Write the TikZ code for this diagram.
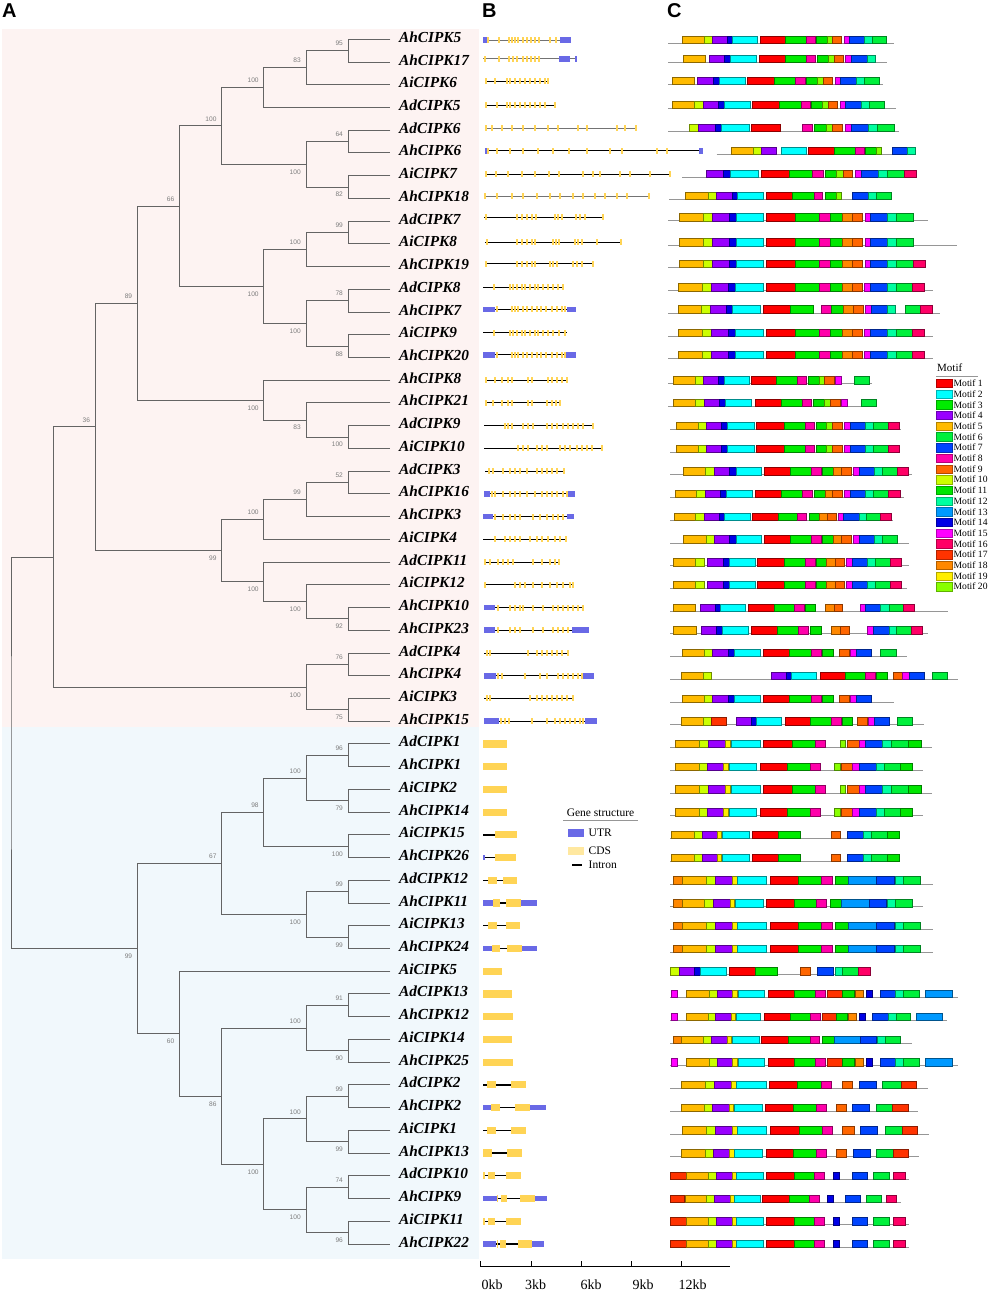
\documentclass[tikz,border=0pt]{standalone}
\usepackage{fontspec}
\setmainfont{Liberation Serif}
\newfontfamily\sansf{Liberation Sans}
\definecolor{pinkbg}{RGB}{253,243,242}
\definecolor{bluebg}{RGB}{241,248,252}
\definecolor{treec}{RGB}{100,100,100}
\definecolor{bootc}{RGB}{125,125,125}
\definecolor{utrc}{RGB}{105,105,230}
\definecolor{cdsc}{RGB}{255,212,85}
\definecolor{cdsl}{RGB}{255,232,160}
\definecolor{basec}{RGB}{150,150,150}
\definecolor{mc1}{RGB}{255,0,0}
\definecolor{mc2}{RGB}{0,255,255}
\definecolor{mc3}{RGB}{0,236,0}
\definecolor{mc4}{RGB}{153,0,255}
\definecolor{mc5}{RGB}{255,187,0}
\definecolor{mc6}{RGB}{0,240,60}
\definecolor{mc7}{RGB}{0,68,255}
\definecolor{mc8}{RGB}{255,0,170}
\definecolor{mc9}{RGB}{255,102,0}
\definecolor{mc10}{RGB}{204,255,0}
\definecolor{mc11}{RGB}{0,230,0}
\definecolor{mc12}{RGB}{0,255,160}
\definecolor{mc13}{RGB}{0,153,255}
\definecolor{mc14}{RGB}{0,0,230}
\definecolor{mc15}{RGB}{255,0,255}
\definecolor{mc16}{RGB}{255,0,102}
\definecolor{mc17}{RGB}{255,51,0}
\definecolor{mc18}{RGB}{255,136,0}
\definecolor{mc19}{RGB}{255,238,0}
\definecolor{mc20}{RGB}{136,255,0}
\def\RY#1{(39.3+(#1-1)*22.73)}
\newcommand\setBY[2]{\expandafter\xdef\csname by@#1\endcsname{#2}}
\def\BY#1{\csname by@#1\endcsname}
% tree helpers
\newcommand\leaf[2]{\coordinate (#1) at (390.35,{\RY{#2}});%
  \expandafter\xdef\csname ty@#1\endcsname{\fpeval{39.3+(#2-1)*22.73}}}
\newcommand\inode[6]{%
  \expandafter\xdef\csname ty@#1\endcsname{\fpeval{(\csname ty@#3\endcsname+\csname ty@#4\endcsname)/2}}%
  \coordinate (#1) at (#2,\csname ty@#1\endcsname);
  \draw[treeline] (#3) -| (#1) |- (#4);
  \node[boot#6] (bl#1) at (#1) {#5};}
\newcommand\inodeN[4]{%
  \expandafter\xdef\csname ty@#1\endcsname{\fpeval{(\csname ty@#3\endcsname+\csname ty@#4\endcsname)/2}}%
  \coordinate (#1) at (#2,\csname ty@#1\endcsname);
  \draw[treeline] (#3) -| (#1) |- (#4);}
% gene structure helpers
\newcommand\gs[5][black]{%
  \draw[#1, line width=1pt] (#3,{\BY{#2}}) -- (#4,{\BY{#2}});
  \edef\exlist{#5}%
  \foreach \x in \exlist {\fill[cdsc] ({\x-3},{\BY{#2}-3}) rectangle ({\x+3},{\BY{#2}+3});}}
\newcommand\gline[3]{\draw[black, line width=1.3pt] (#2,{\BY{#1}}) -- (#3,{\BY{#1}});}
\newcommand\utr[3]{\fill[utrc] (#2,{\BY{#1}-2.8}) rectangle (#3,{\BY{#1}+2.8});}
\newcommand\cds[3]{\fill[cdsc] (#2,{\BY{#1}-3.6}) rectangle (#3,{\BY{#1}+3.6});}
% motif helper
\newcommand\mrow[4]{%
  \draw[mbase] (#2,{\BY{#1}+3.7}) -- (#3,{\BY{#1}+3.7});
  \edef\mlist{#4}%
  \foreach \s/\e/\m in \mlist {\filldraw[fill=mc\m, draw=mc\m!55!black, line width=0.45pt] (\s,{\BY{#1}-3.7}) rectangle (\e,{\BY{#1}+3.7});}}
\def\PA{57/130/5,130/157/10,157/208/4,208/228/14,228/310/2,320/407/1,407/478/3,478/512/8,512/548/11,548/578/18,578/608/9,615/632/15,632/683/7,683/708/12,708/760/6}
\def\PB{55/127/5,127/153/10,153/205/4,205/225/14,225/310/2,320/407/1,407/478/3,478/510/8,510/548/11,548/578/18,578/608/9,612/632/15,632/683/7,683/708/12,708/758/6,758/793/16}
\def\PC{48/115/5,115/140/10,140/185/4,185/203/14,203/282/2,290/372/1,372/435/3,435/463/8,468/500/11,500/517/20,517/548/9,553/570/15,570/615/7,615/640/12,640/685/6,685/718/16}
\def\PD{40/107/5,107/133/10,143/190/4,190/207/14,207/285/2,292/372/1,372/435/3,435/465/8,468/500/11,500/525/18,525/552/9,558/577/15,577/623/7,623/647/12,647/690/6,690/725/16}
\def\PE{45/118/5,118/145/10,145/195/4,195/210/19,213/300/2,310/398/1,398/465/3,465/497/8,540/557/20,563/597/9,597/617/15,617/668/7,668/695/12,695/745/6,745/783/11}
\def\PF{45/117/5,117/143/10,143/190/4,190/205/19,207/290/2,300/382/1,382/450/3,450/482/8,522/542/20,545/577/9,577/597/15,597/648/7,648/673/12,673/722/6,722/758/11}
\def\PG{35/102/5,102/127/10,127/172/4,172/185/19,188/268/2,277/355/1,355/422/3,513/542/9,562/610/7,610/633/12,633/683/6,683/717/11}
\def\PH{40/67/18,67/138/5,138/165/10,165/218/4,218/232/19,232/320/2,330/415/1,415/485/3,485/517/8,527/565/11,565/648/13,648/702/7,705/730/12,730/782/6}
\def\PI{35/53/15,80/148/5,148/172/10,172/218/4,218/232/19,235/312/2,325/402/1,402/465/3,465/495/8,503/548/17,548/582/11,585/610/18,618/637/14,660/707/7,707/730/12,730/777/6,797/877/13}
\def\PJ{30/78/17,78/145/5,145/170/10,170/217/4,217/228/19,228/310/2,320/402/1,402/463/3,463/492/8,520/538/14,577/622/7,640/688/6,700/735/16}
\begin{document}
\begin{tikzpicture}[x=1pt,y=-1pt,
  treeline/.style={draw=treec, line width=1pt},
  boota/.style={font=\sansf\fontsize{6.6}{7}\selectfont, text=bootc, anchor=south east, inner sep=0.6pt, xshift=-4.5pt, yshift=4pt},
  bootb/.style={font=\sansf\fontsize{6.6}{7}\selectfont, text=bootc, anchor=north east, inner sep=0.6pt, xshift=-4.5pt, yshift=-4.5pt},
  glab/.style={font=\bfseries\itshape\fontsize{15.3}{16}\selectfont, anchor=base west, inner sep=0pt},
  mbase/.style={draw=basec, line width=1pt},
  panel/.style={font=\sansf\bfseries\fontsize{20}{20}\selectfont, anchor=base west, inner sep=0pt},
  legtxt/.style={font=\fontsize{11.5}{12}\selectfont, anchor=west, inner sep=0pt},
  scl/.style={font=\fontsize{14}{14}\selectfont, inner sep=0pt},
]
% row positions of panels B and C
\foreach \i/\v in {1/40,2/58.8,3/81,4/105,5/128,6/150.7,7/174,8/196,9/217.2,10/242.2,11/263.7,12/287.2,13/309.3,14/332.7,15/354.7}{\setBY{\i}{\v}}
\foreach \i in {16,...,54}{\setBY{\i}{\fpeval{39.3+(\i-1)*22.73}}}
\useasboundingbox (0,0) rectangle (989,1291);
\fill[white] (0,0) rectangle (989,1291);
% backgrounds
\fill[pinkbg] (1.5,29.3) rectangle (478.5,727);
\fill[bluebg] (1.5,727) rectangle (478.5,1259);
% panel letters
\node[panel] (pA) at (2,17.5) {A};
\node[panel] (pB) at (482,17.5) {B};
\node[panel] (pC) at (667,17.5) {C};
% leaves and labels
\foreach \i/\n in {1/AhCIPK5,2/AhCIPK17,3/AiCIPK6,4/AdCIPK5,5/AdCIPK6,6/AhCIPK6,7/AiCIPK7,8/AhCIPK18,9/AdCIPK7,10/AiCIPK8,11/AhCIPK19,12/AdCIPK8,13/AhCIPK7,14/AiCIPK9,15/AhCIPK20,16/AhCIPK8,17/AhCIPK21,18/AdCIPK9,19/AiCIPK10,20/AdCIPK3,21/AhCIPK16,22/AhCIPK3,23/AiCIPK4,24/AdCIPK11,25/AiCIPK12,26/AhCIPK10,27/AhCIPK23,28/AdCIPK4,29/AhCIPK4,30/AiCIPK3,31/AhCIPK15,32/AdCIPK1,33/AhCIPK1,34/AiCIPK2,35/AhCIPK14,36/AiCIPK15,37/AhCIPK26,38/AdCIPK12,39/AhCIPK11,40/AiCIPK13,41/AhCIPK24,42/AiCIPK5,43/AdCIPK13,44/AhCIPK12,45/AiCIPK14,46/AhCIPK25,47/AdCIPK2,48/AhCIPK2,49/AiCIPK1,50/AhCIPK13,51/AdCIPK10,52/AhCIPK9,53/AiCIPK11,54/AhCIPK22}{
  \leaf{L\i}{\i}
  \node[glab] (g\i) at (399,{\RY{\i}+3}) {\n};
}
% tree: pink clade
\inode{a1}{348.2}{L1}{L2}{95}{a}
\inode{a2}{306.05}{a1}{L3}{83}{a}
\inode{a3}{263.9}{a2}{L4}{100}{a}
\inode{a4}{348.2}{L5}{L6}{64}{a}
\inode{a5}{348.2}{L7}{L8}{82}{b}
\inode{a6}{306.05}{a4}{a5}{100}{b}
\inode{a7}{221.75}{a3}{a6}{100}{a}
\inode{a8}{348.2}{L9}{L10}{99}{a}
\inode{a9}{306.05}{a8}{L11}{100}{a}
\inode{a10}{348.2}{L12}{L13}{78}{a}
\inode{a11}{348.2}{L14}{L15}{88}{b}
\inode{a12}{306.05}{a10}{a11}{100}{b}
\inode{a13}{263.9}{a9}{a12}{100}{b}
\inode{a14}{179.6}{a7}{a13}{66}{a}
\inode{a15}{348.2}{L18}{L19}{100}{b}
\inode{a16}{306.05}{L17}{a15}{83}{b}
\inode{a17}{263.9}{L16}{a16}{100}{b}
\inode{a18}{137.45}{a14}{a17}{89}{a}
\inode{a19}{348.2}{L20}{L21}{52}{a}
\inode{a20}{306.05}{a19}{L22}{99}{a}
\inode{a21}{263.9}{a20}{L23}{100}{a}
\inode{a22}{348.2}{L26}{L27}{92}{b}
\inode{a23}{306.05}{L25}{a22}{100}{b}
\inode{a24}{263.9}{L24}{a23}{100}{b}
\inode{a25}{221.75}{a21}{a24}{99}{b}
\inode{a26}{95.3}{a18}{a25}{36}{a}
\inode{a27}{348.2}{L28}{L29}{76}{a}
\inode{a28}{348.2}{L30}{L31}{75}{b}
\inode{a29}{306.05}{a27}{a28}{100}{b}
\inodeN{a30}{53.15}{a26}{a29}
% tree: blue clade
\inode{b1}{348.2}{L32}{L33}{96}{a}
\inode{b2}{348.2}{L34}{L35}{79}{b}
\inode{b3}{306.05}{b1}{b2}{100}{a}
\inode{b4}{348.2}{L36}{L37}{100}{b}
\inode{b5}{263.9}{b3}{b4}{98}{a}
\inode{b6}{348.2}{L38}{L39}{99}{a}
\inode{b7}{348.2}{L40}{L41}{99}{b}
\inode{b8}{306.05}{b6}{b7}{100}{b}
\inode{b9}{221.75}{b5}{b8}{67}{a}
\inode{b10}{348.2}{L43}{L44}{91}{a}
\inode{b11}{348.2}{L45}{L46}{90}{b}
\inode{b12}{306.05}{b10}{b11}{100}{a}
\inode{b13}{348.2}{L47}{L48}{99}{a}
\inode{b14}{348.2}{L49}{L50}{99}{b}
\inode{b15}{306.05}{b13}{b14}{100}{a}
\inode{b16}{348.2}{L51}{L52}{74}{a}
\inode{b17}{348.2}{L53}{L54}{96}{b}
\inode{b18}{306.05}{b16}{b17}{100}{b}
\inode{b19}{263.9}{b15}{b18}{100}{b}
\inode{b20}{221.75}{b12}{b19}{86}{b}
\inode{b21}{179.6}{L42}{b20}{60}{b}
\inode{b22}{137.45}{b9}{b21}{99}{b}
\inodeN{root}{11}{a30}{b22}
% gene structures
\begin{scope}[shift={(470,0)},xscale=1/3]
\gs[black!55]{1}{40}{302}{55,88,118,125,135,145,160,172,183,195,207,240,258}\utr{1}{40}{52}\utr{1}{270}{302}
\gs[black!55]{2}{40}{322}{45,88,118,130,142,160,172,183,195,207}\utr{2}{268}{300}\utr{2}{316}{322}
\gs{3}{45}{237}{47,75,110,120,135,150,165,180,195,210,225,235}
\gs{4}{45}{257}{47,80,110,120,135,150,165,180,195,210,225,255}
\gs[black!55]{5}{45}{500}{47,65,95,125,160,195,235,265,325,352,440,465,498}
\gs{6}{45}{699}{55,80,120,160,205,250,297,350,420,455,560,590}\utr{6}{45}{52}\utr{6}{688}{699}
\gs{7}{45}{603}{47,78,115,157,195,237,268,340,370,390,450,480,540,600}
\gs[black!55]{8}{42}{540}{44,80,125,160,200,240,270,310,340,375,405,440,470,538}
\gs{9}{42}{400}{48,140,155,170,185,198,255,265,275,318,330,345,398}
\gs{10}{45}{455}{50,140,155,170,185,195,248,258,268,315,325,335,380,453}
\gs{11}{45}{372}{48,140,155,170,185,195,240,250,262,310,322,335,370}
\gs{12}{40}{283}{73,120,130,140,155,165,180,195,205,220,235,250,265,280}
\gs{13}{40}{318}{80,125,135,145,160,170,185,200,212,228,245,260,275,286}\utr{13}{40}{75}\utr{13}{290}{318}
\gs{14}{40}{290}{73,120,130,140,155,165,180,195,205,220,235,250,268,285}
\gs{15}{40}{318}{80,125,135,145,160,170,185,200,212,228,245,262,275,285}\utr{15}{40}{75}\utr{15}{288}{318}
\gs{16}{45}{292}{47,75,95,115,125,175,185,235,245,260,275,290}
\gs{17}{45}{272}{47,70,95,115,125,175,185,230,245,258,270}
\gs{18}{42}{370}{105,115,125,160,175,190,230,245,260,280,295,310,325,340,368}
\gs{19}{42}{398}{145,160,175,200,215,230,270,285,300,320,335,350,365,396}
\gs{20}{45}{285}{58,68,100,120,135,150,170,200,215,230,245,260,283}
\gs{21}{42}{315}{65,75,100,120,135,150,170,195,215,230,245,260,280,292}\utr{21}{42}{60}\utr{21}{295}{315}
\gs{22}{40}{312}{75,100,120,135,150,190,210,230,250,265,280}\utr{22}{40}{70}\utr{22}{290}{312}
\gs{23}{40}{290}{75,105,120,135,150,180,200,215,235,255,270,288}
\gs{24}{42}{270}{45,60,85,100,115,130,190,215,240,255,268}
\gs{25}{42}{310}{45,135,150,165,190,215,240,260,280,300,308}
\gs{26}{42}{340}{85,120,135,150,160,190,220,250,265,280,295,310,325,338}\utr{26}{42}{75}
\gs{27}{42}{357}{85,120,135,150,190,220,250,265,280,295}\utr{27}{42}{75}\utr{27}{305}{357}
\gs{28}{42}{295}{50,60,175,200,215,230,245,260,275,293}
\gs{29}{42}{372}{85,95,165,210,230,265,280,295,310,325,335}\utr{29}{42}{78}\utr{29}{340}{372}
\gs{30}{42}{310}{50,60,180,200,215,230,245,260,275,290,308}
\gs{31}{42}{380}{92,105,118,185,230,255,270,285,300,315,330,340}\utr{31}{42}{88}\utr{31}{345}{380}
\cds{32}{40}{112}\cds{33}{40}{112}\cds{34}{40}{112}\cds{35}{40}{112}
\gline{36}{40}{75}\cds{36}{75}{140}
\gline{37}{40}{75}\utr{37}{40}{45}\cds{37}{75}{137}
\gline{38}{40}{142}\cds{38}{55}{80}\cds{38}{98}{142}
\gline{39}{40}{202}\utr{39}{40}{68}\cds{39}{68}{90}\cds{39}{108}{152}\utr{39}{152}{202}
\gline{40}{40}{150}\cds{40}{55}{82}\cds{40}{108}{150}
\gline{41}{40}{202}\utr{41}{40}{65}\cds{41}{65}{90}\cds{41}{112}{155}\utr{41}{155}{202}
\cds{42}{40}{97}
\cds{43}{40}{126}\cds{44}{40}{130}\cds{45}{40}{126}\cds{46}{40}{130}
\gline{47}{40}{167}\cds{47}{50}{78}\cds{47}{122}{167}
\gline{48}{40}{228}\utr{48}{40}{62}\cds{48}{62}{90}\cds{48}{135}{180}\utr{48}{180}{228}
\gline{49}{40}{167}\cds{49}{50}{78}\cds{49}{122}{167}
\gline{50}{40}{155}\cds{50}{40}{66}\cds{50}{110}{155}
\gline{51}{40}{152}\cds{51}{40}{46}\cds{51}{55}{75}\cds{51}{108}{152}
\gline{52}{40}{232}\utr{52}{40}{80}\cds{52}{80}{85}\cds{52}{93}{112}\cds{52}{150}{195}\utr{52}{195}{232}
\gline{53}{40}{152}\cds{53}{40}{46}\cds{53}{55}{75}\cds{53}{108}{152}
\gline{54}{40}{222}\utr{54}{40}{78}\cds{54}{80}{85}\cds{54}{90}{108}\cds{54}{145}{185}\utr{54}{185}{222}
\end{scope}
% motifs
\begin{scope}[shift={(660,0)},xscale=1/3]
\mrow{1}{25}{703}{67/133/5,133/157/10,157/203/4,203/218/14,218/293/2,300/377/1,377/440/3,440/465/8,470/503/11,503/518/20,518/545/9,553/568/15,568/613/7,613/637/12,637/680/6}
\mrow{2}{25}{680}{70/137/5,147/193/4,193/212/14,212/290/2,297/375/1,375/440/3,440/467/8,472/505/11,505/522/20,522/550/9,557/573/15,573/622/7,622/645/12}
\mrow{3}{25}{670}{37/103/5,113/160/4,160/178/14,178/257/2,263/342/1,342/406/3,406/435/8,438/473/11,473/490/20,490/518/9,525/540/15,540/588/7,588/612/12,612/657/6}
\mrow{4}{25}{707}{37/103/5,103/130/10,130/175/4,175/193/14,193/272/2,278/358/1,358/423/3,423/452/8,455/488/11,488/505/20,505/533/9,540/555/15,555/603/7,603/628/12,628/673/6}
\mrow{5}{25}{717}{88/115/10,115/165/4,165/185/14,185/268/2,275/362/1,427/458/8,462/500/11,500/517/20,517/548/9,557/575/15,575/625/7,625/652/12,652/702/6}
\mrow{6}{170}{767}{215/280/5,280/305/10,305/350/4,363/440/2,445/522/1,522/585/3,585/612/8,615/650/11,650/663/20,697/742/7,742/767/12}
\mrow{7}{67}{768}{140/190/4,190/210/14,210/295/2,303/388/1,388/458/3,458/490/8,495/530/11,530/550/20,550/578/9,587/605/15,605/655/7,655/682/12,682/732/6,732/768/16}
\mrow{8}{27}{695}{75/145/5,145/170/10,170/217/4,217/233/14,233/310/2,318/398/1,398/462/3,462/488/8,495/528/11,528/545/20,578/625/7,625/648/12,648/695/6}
\mrow{9}{25}{803}{\PA}
\mrow{10}{25}{890}{\PA}
\mrow{11}{25}{797}{\PA,760/795/16}
\mrow{12}{25}{820}{\PB}
\mrow{13}{25}{840}{55/123/5,123/150/10,150/200/4,200/218/14,218/300/2,310/392/1,392/460/3,483/515/8,515/550/11,550/580/18,580/610/9,615/633/15,633/683/7,683/707/12,735/782/6,782/818/16}
\mrow{14}{25}{818}{\PB}
\mrow{15}{25}{818}{\PB}
\mrow{16}{25}{637}{40/105/5,105/130/10,130/175/4,175/192/14,192/267/2,275/350/1,350/413/3,413/440/8,445/478/11,478/493/20,493/522/9,527/545/15,583/627/6}
\mrow{17}{25}{650}{40/107/5,107/133/10,133/178/4,178/197/14,197/275/2,285/365/1,365/428/3,428/455/8,460/493/11,493/512/20,512/540/9,545/563/15,603/650/6}
\mrow{18}{30}{723}{\PC}
\mrow{19}{30}{720}{\PC}
\mrow{20}{30}{757}{70/137/5,137/162/10,162/208/4,208/228/14,228/305/2,312/390/1,390/455/3,455/485/8,488/520/11,520/545/18,545/573/9,580/597/15,597/643/7,643/667/12,667/712/6,712/745/16}
\mrow{21}{30}{733}{45/110/5,110/135/10,135/182/4,182/200/14,200/278/2,285/365/1,365/428/3,428/457/8,462/495/11,495/518/18,518/548/9,553/570/15,570/617/7,617/640/12,640/685/6,685/720/16}
\mrow{22}{30}{700}{43/107/5,107/133/10,133/177/4,177/193/14,193/270/2,277/355/1,355/413/3,413/440/8,447/478/11,478/503/18,503/528/9,535/550/15,550/597/7,597/620/12,620/662/6,662/695/16}
\mrow{23}{30}{748}{70/138/5,138/162/10,162/208/4,208/228/14,228/305/2,312/390/1,390/455/3,455/485/8,488/520/11,520/545/18,545/573/9,580/597/15,597/643/7,643/667/12,667/713/6}
\mrow{24}{30}{748}{\PD}
\mrow{25}{30}{740}{\PD}
\mrow{26}{30}{863}{40/105/5,120/165/4,165/182/14,182/257/2,265/342/1,342/402/3,402/432/8,435/467/11,497/522/18,522/548/9,600/617/15,617/662/7,662/687/12,687/730/6,730/762/16}
\mrow{27}{30}{803}{40/108/5,123/170/4,170/188/14,188/265/2,273/352/1,352/415/3,415/445/8,450/483/11,513/540/18,540/568/9,622/640/15,640/687/7,687/710/12,710/755/6,755/788/16}
\mrow{28}{30}{742}{67/133/5,133/158/10,158/205/4,205/222/14,222/300/2,310/388/1,388/453/3,453/483/8,487/520/11,537/567/9,570/588/15,588/633/7,662/708/6}
\mrow{29}{30}{893}{63/130/5,130/153/10,333/378/4,378/393/14,393/470/2,480/555/1,555/617/3,617/645/8,650/683/11,700/727/9,728/747/15,747/792/7,818/863/6}
\mrow{30}{30}{703}{67/133/5,133/158/10,158/205/4,205/222/14,222/300/2,310/388/1,388/453/3,453/483/8,487/520/11,537/567/9,570/588/15,588/633/7}
\mrow{31}{30}{792}{63/130/5,130/153/10,155/200/17,228/273/4,273/290/14,290/365/2,375/452/1,452/515/3,515/543/8,547/578/11,593/623/9,625/642/15,642/687/7,713/757/6}
\mrow{32}{30}{817}{\PE}
\mrow{33}{30}{790}{\PF}
\mrow{34}{30}{817}{\PE}
\mrow{35}{30}{790}{\PF}
\mrow{36}{30}{717}{\PG}
\mrow{37}{30}{717}{\PG}
\mrow{38}{30}{818}{\PH}
\mrow{39}{30}{790}{40/67/18,67/133/5,133/160/10,160/210/4,210/223/19,225/310/2,320/403/1,403/468/3,468/500/8,510/545/11,545/628/13,628/678/7,682/707/12,707/757/6}
\mrow{40}{30}{818}{\PH}
\mrow{41}{30}{818}{\PH}
\mrow{42}{30}{630}{32/57/10,57/103/4,103/120/14,120/198/2,208/287/1,287/352/3,422/452/9,473/520/7,525/548/12,548/595/6,595/630/16}
\mrow{43}{30}{893}{\PI}
\mrow{44}{30}{862}{35/53/15,78/145/5,145/167/10,167/213/4,213/226/19,228/302/2,313/390/1,390/452/3,452/480/8,487/530/17,530/563/11,565/590/18,597/615/14,638/685/7,685/708/12,708/752/6,768/847/13}
\mrow{45}{30}{755}{40/65/18,65/130/5,130/153/10,153/203/4,203/215/19,217/297/2,305/385/1,385/450/3,450/477/8,487/522/11,522/600/13,600/648/7,651/675/12,675/722/6}
\mrow{46}{30}{893}{\PI}
\mrow{47}{30}{803}{63/137/5,137/163/10,163/215/4,215/230/19,230/318/2,327/412/1,412/485/3,485/515/8,547/578/9,597/648/7,668/723/6,723/770/17}
\mrow{48}{30}{775}{63/133/5,133/158/10,158/207/4,207/220/19,222/308/2,317/400/1,400/468/3,468/498/8,528/558/9,578/627/7,648/697/6,697/745/17}
\mrow{49}{30}{808}{67/140/5,140/167/10,167/218/4,218/232/19,232/320/2,330/418/1,418/488/3,488/518/8,548/582/9,602/653/7,675/727/6,727/773/17}
\mrow{50}{30}{778}{63/135/5,135/160/10,160/208/4,208/222/19,222/308/2,320/400/1,400/468/3,468/500/8,528/560/9,580/630/7,648/700/6,700/745/17}
\mrow{51}{30}{747}{\PJ}
\mrow{52}{30}{722}{30/72/17,75/140/5,140/162/10,162/210/4,210/222/19,222/300/2,308/388/1,388/448/3,448/477/8,502/520/14,557/602/7,620/665/6,678/710/16}
\mrow{53}{30}{747}{\PJ}
\mrow{54}{30}{747}{\PJ}
\end{scope}
% motif legend
\node[font=\fontsize{11}{12}\selectfont, anchor=base west, inner sep=0pt] (mh) at (937,371) {Motif};
\draw[basec, line width=1pt] (936,376) -- (978,376);
\foreach \k in {1,...,20}{
  \filldraw[fill=mc\k, draw=mc\k!70!black, line width=0.3pt] (936,{383.3+(\k-1)*10.7-4.2}) rectangle (952.5,{383.3+(\k-1)*10.7+4.2});
  \node[font=\fontsize{9.6}{10}\selectfont, anchor=west, inner sep=0pt] (ml\k) at (953.5,{383.3+(\k-1)*10.7}) {Motif \k};
}
% gene structure legend
\node[font=\fontsize{11.5}{12}\selectfont, inner sep=0pt] (gsh) at (600.5,812.5) {Gene structure};
\draw[basec, line width=1pt] (563,820.5) -- (638,820.5);
\fill[utrc] (568,829) rectangle (584,836.5);
\node[legtxt] (lu) at (588.5,832.7) {UTR};
\fill[cdsl] (568,847) rectangle (584,854.5);
\node[legtxt] (lc) at (588.5,850.7) {CDS};
\draw[black, line width=1.5pt] (572,865) -- (582,865);
\node[legtxt] (li) at (588.5,865) {Intron};
% scale bar
\draw[black, line width=1pt] (480,1266) -- (730,1266);
\foreach \t in {480,531,581,631,681}{\draw[black, line width=0.8pt] (\t,1266) -- (\t,1261);}
\node[scl] (s0) at (492,1285) {0kb};
\node[scl] (s3) at (535.5,1285) {3kb};
\node[scl] (s6) at (591,1285) {6kb};
\node[scl] (s9) at (643,1285) {9kb};
\node[scl] (s12) at (692.5,1285) {12kb};
\end{tikzpicture}
\end{document}
